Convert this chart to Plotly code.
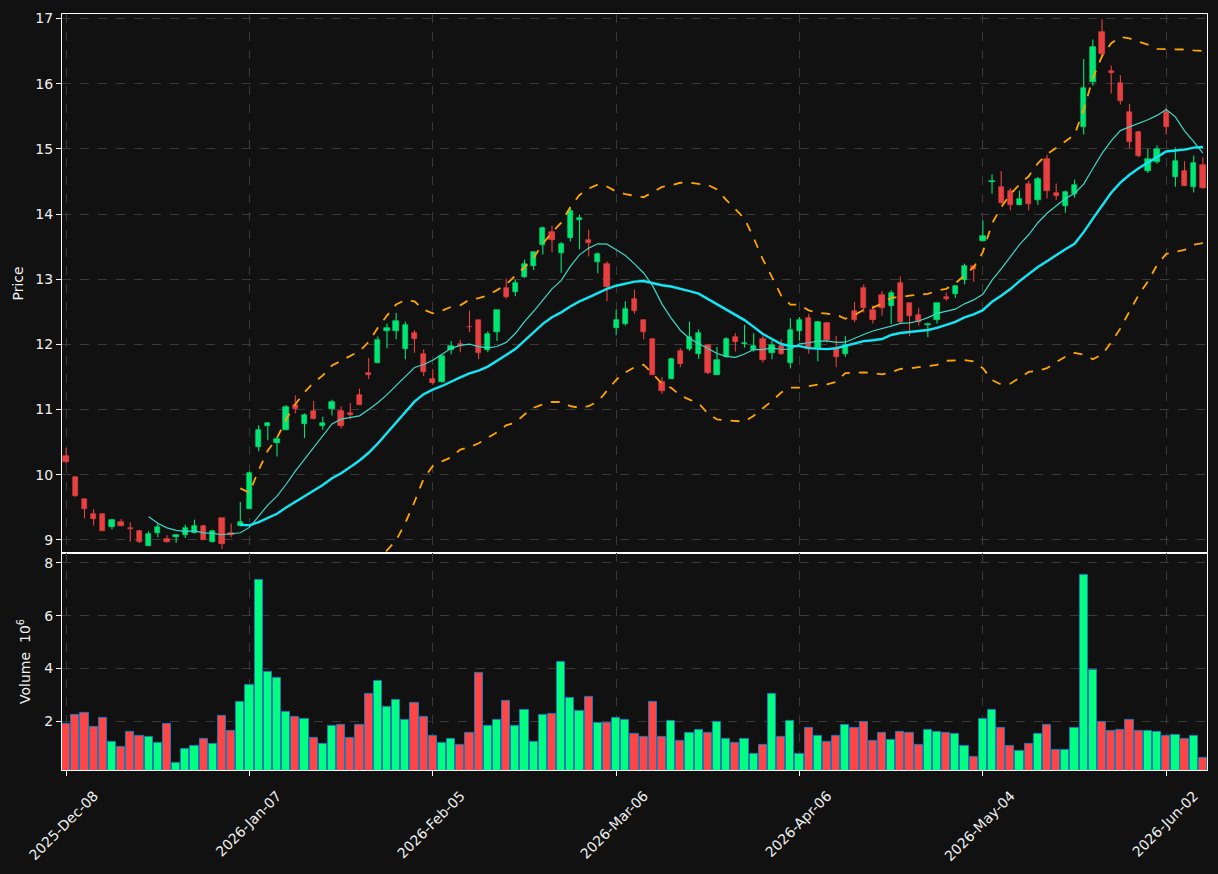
import pandas as pd
import plotly.graph_objects as go
from plotly.subplots import make_subplots

# ---------------- data ----------------
holidays = ["2025-12-25", "2026-01-01", "2026-01-19", "2026-02-16", "2026-04-03", "2026-05-25"]
dates = pd.bdate_range("2025-12-08", periods=125, freq="C", holidays=holidays)

opens = [10.29, 9.96, 9.62, 9.40, 9.40, 9.19, 9.27, 9.18, 9.14, 8.91,
         9.11, 9.02, 9.05, 9.08, 9.10, 9.22, 8.96, 9.33, 9.10, 9.21,
         9.48, 10.42, 10.75, 10.49, 10.69, 11.07, 10.78, 10.97, 10.75, 11.01,
         10.98, 10.94, 11.22, 11.56, 11.72, 12.21, 12.21, 11.93, 12.18, 11.85,
         11.47, 11.43, 11.92, 12.00, 12.27, 12.37, 11.91, 12.19, 12.87, 12.80,
         13.03, 13.20, 13.52, 13.73, 13.40, 13.63, 13.91, 13.60, 13.26, 13.23,
         12.25, 12.31, 12.69, 12.38, 12.09, 11.43, 11.47, 11.90, 11.93, 11.85,
         11.99, 11.53, 11.81, 12.11, 12.00, 11.92, 12.08, 11.86, 11.98, 11.72,
         12.20, 12.41, 11.95, 12.33, 11.95, 11.85, 12.51, 12.86, 12.52, 12.76,
         12.59, 12.94, 12.63, 12.45, 12.30, 12.38, 12.73, 12.77, 12.99, 13.20,
         13.58, 14.49, 14.41, 14.36, 14.14, 14.46, 14.22, 14.85, 14.33, 14.12,
         14.31, 15.33, 16.03, 16.80, 16.19, 16.01, 15.57, 15.26, 14.66, 14.80,
         15.56, 14.57, 14.66, 14.42, 14.75]
highs = [10.41, 9.97, 9.63, 9.47, 9.41, 9.32, 9.32, 9.27, 9.15, 9.13,
         9.26, 9.07, 9.09, 9.23, 9.31, 9.23, 9.14, 9.33, 9.25, 9.58,
         10.05, 10.76, 10.80, 10.59, 11.07, 11.22, 10.94, 11.13, 10.89, 11.15,
         11.05, 11.10, 11.32, 11.79, 12.12, 12.32, 12.48, 12.35, 12.22, 11.92,
         11.62, 11.83, 12.05, 12.07, 12.52, 12.37, 12.20, 12.52, 13.01, 12.99,
         13.30, 13.42, 13.81, 13.82, 13.57, 14.10, 13.99, 13.76, 13.41, 13.27,
         12.53, 12.66, 12.84, 12.38, 12.09, 11.50, 11.79, 11.94, 12.35, 12.23,
         12.01, 11.96, 12.11, 12.17, 12.30, 12.17, 12.13, 12.07, 12.08, 12.40,
         12.42, 12.47, 12.36, 12.34, 12.13, 12.13, 12.65, 12.92, 12.60, 12.82,
         12.83, 13.04, 12.63, 12.56, 12.33, 12.64, 12.80, 12.90, 13.24, 13.20,
         13.90, 14.61, 14.66, 14.40, 14.36, 14.51, 14.57, 14.91, 14.47, 14.36,
         14.53, 16.38, 16.68, 16.99, 16.28, 16.13, 15.69, 15.28, 15.00, 15.05,
         15.63, 15.02, 14.81, 14.90, 14.87]
lows = [10.17, 9.66, 9.33, 9.22, 9.13, 9.16, 9.21, 8.97, 8.95, 8.91,
        9.04, 8.96, 8.95, 9.03, 9.10, 9.00, 8.96, 8.86, 9.04, 9.21,
        9.48, 10.36, 10.53, 10.28, 10.69, 10.94, 10.56, 10.85, 10.69, 10.91,
        10.71, 10.85, 11.07, 11.47, 11.71, 11.94, 12.08, 11.77, 11.87, 11.51,
        11.38, 11.41, 11.85, 11.88, 12.19, 11.77, 11.88, 12.05, 12.70, 12.74,
        13.02, 13.14, 13.38, 13.41, 13.10, 13.58, 13.46, 13.35, 13.09, 12.66,
        12.14, 12.29, 12.47, 12.08, 11.53, 11.24, 11.47, 11.65, 11.90, 11.78,
        11.54, 11.53, 11.80, 11.89, 11.95, 11.89, 11.72, 11.77, 11.84, 11.63,
        12.06, 11.86, 11.74, 12.03, 11.65, 11.81, 12.34, 12.49, 12.32, 12.44,
        12.31, 12.31, 12.13, 12.29, 12.11, 12.32, 12.67, 12.71, 12.92, 12.96,
        13.58, 14.31, 14.16, 14.06, 14.14, 14.06, 14.14, 14.24, 14.22, 14.02,
        14.25, 15.22, 15.97, 16.39, 15.85, 15.68, 15.01, 14.87, 14.63, 14.77,
        15.22, 14.42, 14.43, 14.33, 14.39]
closes = [10.19, 9.67, 9.47, 9.32, 9.14, 9.31, 9.22, 9.16, 8.96, 9.09,
          9.20, 8.97, 9.08, 9.18, 9.22, 9.00, 9.14, 8.94, 9.08, 9.28,
          10.02, 10.69, 10.79, 10.55, 11.04, 11.01, 10.92, 10.86, 10.80, 11.12,
          10.75, 10.91, 11.07, 11.53, 12.07, 12.25, 12.36, 12.30, 12.09, 11.58,
          11.41, 11.82, 11.98, 11.98, 12.26, 11.87, 12.16, 12.52, 12.72, 12.94,
          13.23, 13.42, 13.79, 13.60, 13.54, 14.04, 13.94, 13.55, 13.38, 12.88,
          12.38, 12.54, 12.51, 12.19, 11.53, 11.28, 11.78, 11.70, 12.11, 12.17,
          11.56, 11.76, 12.09, 12.04, 12.02, 11.97, 11.76, 11.99, 11.85, 12.22,
          12.38, 11.93, 12.34, 12.07, 11.80, 11.99, 12.38, 12.56, 12.38, 12.56,
          12.79, 12.35, 12.43, 12.34, 12.32, 12.64, 12.69, 12.90, 13.20, 13.16,
          13.66, 14.51, 14.17, 14.14, 14.23, 14.16, 14.54, 14.35, 14.28, 14.34,
          14.44, 15.94, 16.57, 16.45, 16.16, 15.74, 15.11, 14.89, 14.84, 15.00,
          15.34, 14.81, 14.43, 14.78, 14.40]
volumes_m = [1.90, 2.24, 2.31, 1.79, 2.13, 1.22, 1.03, 1.60, 1.45, 1.41,
             1.18, 1.90, 0.43, 0.96, 1.07, 1.33, 1.14, 2.20, 1.64, 2.73,
             3.37, 7.37, 3.86, 3.64, 2.35, 2.16, 2.09, 1.37, 1.14, 1.82,
             1.86, 1.37, 1.86, 3.03, 3.52, 2.54, 2.81, 2.05, 2.69, 2.16,
             1.45, 1.18, 1.33, 1.11, 1.56, 3.82, 1.82, 2.05, 2.77, 1.82,
             2.43, 1.22, 2.24, 2.28, 4.24, 2.88, 2.39, 2.92, 1.94, 1.94,
             2.13, 2.05, 1.52, 1.41, 2.73, 1.41, 2.01, 1.26, 1.56, 1.67,
             1.56, 1.97, 1.33, 1.18, 1.33, 0.77, 1.11, 3.03, 1.41, 2.01,
             0.77, 1.75, 1.45, 1.22, 1.45, 1.86, 1.75, 1.97, 1.26, 1.56,
             1.30, 1.60, 1.56, 1.11, 1.67, 1.60, 1.56, 1.52, 1.07, 0.65,
             2.09, 2.43, 1.75, 1.07, 0.88, 1.14, 1.52, 1.86, 0.90, 0.90,
             1.75, 7.56, 3.94, 1.97, 1.64, 1.67, 2.05, 1.64, 1.64, 1.60,
             1.45, 1.48, 1.33, 1.45, 0.62]

mav_short, mav_long = 10, 20
tick_step = 20

# ---------------- derived ----------------
n = len(closes)
idx = list(range(n))
df = pd.DataFrame({"o": opens, "h": highs, "l": lows, "c": closes, "v": volumes_m}, index=idx)
up = df["c"] >= df["o"]
ma_s = df["c"].rolling(mav_short).mean()
ma_l = df["c"].rolling(mav_long).mean()
sd = df["c"].rolling(mav_long).std(ddof=0)
bb_up = ma_l + 2 * sd
bb_lo = ma_l - 2 * sd

UP_C, DN_C = "#00e676", "#e84142"
VUP_C, VDN_C = "#00ff80", "#ff4545"
BG = "#111111"
GRID = "#3a3a3a"
TXT = "#f0f0f0"

fig = make_subplots(rows=2, cols=1, shared_xaxes=True, vertical_spacing=0,
                    row_heights=[0.7128, 0.2872])

def wick_xy(mask):
    xs, ys = [], []
    for i in df.index[mask]:
        xs += [i, i, None]
        ys += [df.at[i, "l"], df.at[i, "h"], None]
    return xs, ys

for mask, col in ((up, UP_C), (~up, DN_C)):
    wx, wy = wick_xy(mask)
    fig.add_trace(go.Scatter(x=wx, y=wy, mode="lines", line=dict(color=col, width=1.1),
                             hoverinfo="skip"), row=1, col=1)
    sub = df[mask]
    lo = sub[["o", "c"]].min(axis=1)
    hi = sub[["o", "c"]].max(axis=1)
    fig.add_trace(go.Bar(x=sub.index, y=hi - lo, base=lo, width=0.58,
                         marker=dict(color=col, line=dict(color=col, width=0.6))),
                  row=1, col=1)

fig.add_trace(go.Scatter(x=idx, y=ma_s, mode="lines", line=dict(color="#3fd6c6", width=1.2)), row=1, col=1)
fig.add_trace(go.Scatter(x=idx, y=ma_l, mode="lines", line=dict(color="#12e8f5", width=2.4)), row=1, col=1)
fig.add_trace(go.Scatter(x=idx, y=bb_up, mode="lines", line=dict(color="#ffa500", width=1.8, dash="dash")), row=1, col=1)
fig.add_trace(go.Scatter(x=idx, y=bb_lo, mode="lines", line=dict(color="#ffa500", width=1.8, dash="dash")), row=1, col=1)

vcols = [VUP_C if u else VDN_C for u in up]
fig.add_trace(go.Bar(x=idx, y=df["v"], width=0.9,
                     marker=dict(color=vcols, line=dict(color="#1f77b4", width=1))),
              row=2, col=1)

tickvals = idx[::tick_step]
ticktext = [dates[i].strftime("%Y-%b-%d") for i in tickvals]

axis_common = dict(showline=True, mirror=True, linecolor="white", linewidth=1.2,
                   showgrid=True, gridcolor=GRID, griddash="dash", gridwidth=1,
                   zeroline=False, tickfont=dict(family="DejaVu Sans", size=14, color=TXT))

fig.update_xaxes(**axis_common, range=[-0.45, n - 0.55], tickvals=tickvals)
fig.update_xaxes(showticklabels=False, ticks="", row=1, col=1)
fig.update_xaxes(ticktext=ticktext, tickangle=-45, ticks="outside", ticklen=5,
                 tickcolor="white", ticklabelshift=28, ticklabelstandoff=6,
                 ticklabeloverflow="allow", row=2, col=1)
fig.update_yaxes(**axis_common, ticks="outside", ticklen=5, tickcolor="white")
fig.update_yaxes(range=[8.80, 17.07], dtick=1,
                 title=dict(text="Price", font=dict(family="DejaVu Sans", size=14, color=TXT), standoff=8),
                 row=1, col=1)
fig.update_yaxes(range=[0.15, 8.38], tickvals=[2, 4, 6, 8],
                 title=dict(text="Volume  10<sup>6</sup>", font=dict(family="DejaVu Sans", size=14, color=TXT), standoff=10),
                 row=2, col=1)

fig.update_layout(width=1218, height=874, margin=dict(l=62, r=10, t=12, b=103),
                  paper_bgcolor=BG, plot_bgcolor=BG, showlegend=False,
                  barmode="overlay", bargap=0, hovermode=False,
                  font=dict(family="DejaVu Sans", color=TXT))

fig.write_html("out.html")
